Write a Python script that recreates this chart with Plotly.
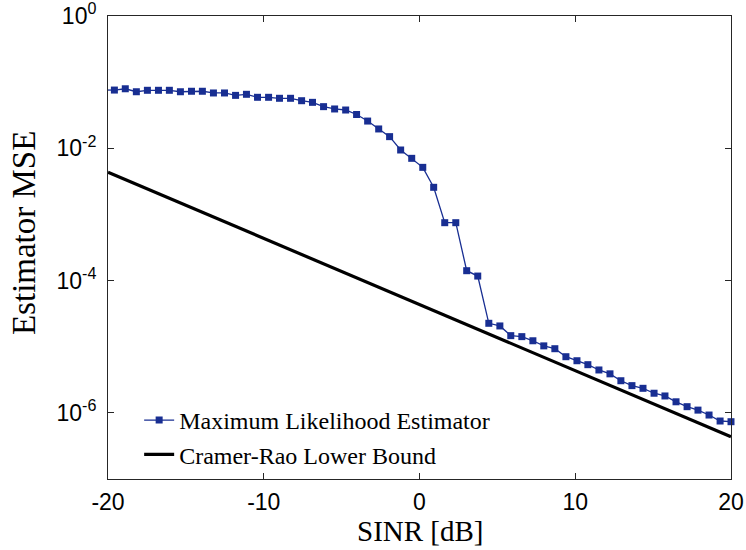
import plotly.graph_objects as go

# SINR grid (dB) for the ML estimator simulation
sinr_db = [-20.30, -19.59, -18.89, -18.18, -17.47, -16.76, -16.06, -15.35, -14.64, -13.94,
           -13.23, -12.52, -11.81, -11.11, -10.40, -9.69, -8.99, -8.28, -7.57, -6.87,
           -6.16, -5.45, -4.74, -4.04, -3.33, -2.62, -1.92, -1.21, -0.50, 0.21,
           0.91, 1.62, 2.33, 3.03, 3.74, 4.45, 5.16, 5.86, 6.57, 7.28,
           7.98, 8.69, 9.40, 10.11, 10.81, 11.52, 12.23, 12.93, 13.64, 14.35,
           15.06, 15.76, 16.47, 17.18, 17.88, 18.59, 19.30, 20.00]

# Empirical MSE of the maximum likelihood estimator
mle_mse = [0.0759, 0.0759, 0.0794, 0.0716, 0.0753, 0.0753, 0.0753, 0.0716, 0.0728, 0.0728,
           0.0686, 0.0686, 0.0631, 0.0655, 0.0590, 0.0590, 0.0570, 0.0570, 0.0524, 0.0495,
           0.0426, 0.0393, 0.0379, 0.0324, 0.0258, 0.0196, 0.0150, 0.00942, 0.00705, 0.00515,
           0.00257, 7.50e-4, 7.50e-4, 1.41e-4, 1.17e-4, 2.26e-5, 2.06e-5, 1.47e-5, 1.42e-5, 1.23e-5,
           1.03e-5, 9.33e-6, 7.06e-6, 6.14e-6, 5.35e-6, 4.45e-6, 3.89e-6, 3.06e-6, 2.58e-6, 2.35e-6,
           1.98e-6, 1.80e-6, 1.47e-6, 1.24e-6, 1.10e-6, 9.27e-7, 7.53e-7, 7.35e-7]

# Cramer-Rao lower bound (straight line in log-dB space)
crlb_db = [-20, 20]
crlb_mse = [4.34e-3, 4.34e-7]

x_ticks = [-20, -10, 0, 10, 20]
y_ticks = [1e-6, 1e-4, 1e-2, 1]
y_tick_text = ["10<sup>-6</sup>", "10<sup>-4</sup>", "10<sup>-2</sup>", "10<sup>0</sup>"]

blue = "rgb(24,46,146)"
axis_col = "#262626"
serif = "Liberation Serif, Times New Roman, serif"
sans = "Liberation Sans, Arial, sans-serif"

fig = go.Figure()

# short lead-in segment from the axis edge (clipped by the plot area)
fig.add_trace(go.Scatter(x=sinr_db[:2], y=mle_mse[:2], mode="lines",
                         line=dict(color=blue, width=1.3), showlegend=False,
                         hoverinfo="skip"))

fig.add_trace(go.Scatter(x=sinr_db[1:], y=mle_mse[1:], mode="lines+markers",
                         name="Maximum Likelihood Estimator",
                         line=dict(color=blue, width=1.3),
                         marker=dict(symbol="square", size=7, color=blue),
                         cliponaxis=False))

fig.add_trace(go.Scatter(x=crlb_db, y=crlb_mse, mode="lines",
                         name="Cramer-Rao Lower Bound",
                         line=dict(color="black", width=3.2)))

axis_common = dict(
    ticks="inside", ticklen=6, tickwidth=1, tickcolor=axis_col,
    showline=True, linecolor=axis_col, linewidth=1, mirror="ticks",
    showgrid=False, zeroline=False, automargin=False,
    ticklabeloverflow="allow",
    tickfont=dict(family=sans, size=23, color="black"),
)

fig.update_layout(
    width=746, height=550,
    margin=dict(l=108, r=15, t=16, b=71),
    paper_bgcolor="white", plot_bgcolor="white",
    legend=dict(x=0.05, y=0.175, xanchor="left", yanchor="top",
                bgcolor="rgba(0,0,0,0)", borderwidth=0,
                font=dict(family=serif, size=24, color="black"),
                tracegroupgap=0),
    xaxis=dict(range=[-20, 20], tickvals=x_ticks,
               ticktext=[str(v) for v in x_ticks],
               ticklabelstandoff=2, **axis_common),
    yaxis=dict(type="log", range=[-7, 0], tickvals=y_ticks, ticktext=y_tick_text,
               ticklabelstandoff=6, **axis_common),
    annotations=[
        dict(text="SINR [dB]", xref="paper", yref="paper", x=0.5, y=-0.152,
             xanchor="center", yanchor="bottom", showarrow=False,
             font=dict(family=serif, size=29, color="black")),
        dict(text="Estimator MSE", xref="paper", yref="paper", x=-0.135, y=0.531,
             xanchor="center", yanchor="middle", textangle=-90, showarrow=False,
             font=dict(family=serif, size=33, color="black")),
    ],
)

fig.write_html("out.html")
